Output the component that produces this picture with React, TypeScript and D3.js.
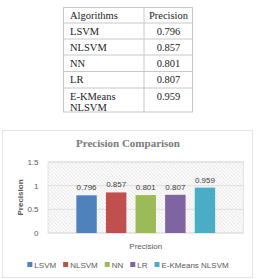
import React, { useEffect, useRef } from "react";
import * as d3 from "d3";

const algorithms = ["LSVM", "NLSVM", "NN", "LR", "E-KMeans NLSVM"];
const tableNames = [["LSVM"], ["NLSVM"], ["NN"], ["LR"], ["E-KMeans", "NLSVM"]];
const precision = [0.796, 0.857, 0.801, 0.807, 0.959];
const yTicks = [0, 0.5, 1, 1.5];
const colors = ["#4F81BD", "#C0504D", "#9BBB59", "#8064A2", "#4BACC6"];
const categoryLabel = "Precision";
const chartTitle = "Precision Comparison";

const W = 256;
const H = 279;

export default function App() {
  const ref = useRef<SVGSVGElement>(null);

  useEffect(() => {
    const svg = d3.select(ref.current);
    svg.selectAll("*").remove();

    // ---------- Table ----------
    const tbl = svg.append("g");
    const tx0 = 63.5, tx1 = 144, tx2 = 192.5;
    const rowH = [15.5, 16, 16, 16.5, 16.5, 24];
    const rowY = [7.5];
    rowH.forEach((h, i) => rowY.push(rowY[i] + h));
    tbl.append("rect")
      .attr("x", tx0).attr("y", rowY[0])
      .attr("width", tx2 - tx0).attr("height", rowY[rowY.length - 1] - rowY[0])
      .attr("fill", "none").attr("stroke", "#c8c8c8").attr("stroke-width", 1);
    tbl.append("line").attr("x1", tx1).attr("x2", tx1)
      .attr("y1", rowY[0]).attr("y2", rowY[rowY.length - 1])
      .attr("stroke", "#c8c8c8");
    rowY.slice(1, -1).forEach((y) => {
      tbl.append("line").attr("x1", tx0).attr("x2", tx2)
        .attr("y1", y).attr("y2", y).attr("stroke", "#c8c8c8");
    });
    const tFont = "'Liberation Serif', 'Times New Roman', serif";
    const cellText = (x: number, y: number, s: string, anchor: string) =>
      tbl.append("text").attr("x", x).attr("y", y).attr("text-anchor", anchor)
        .attr("font-family", tFont).attr("font-size", 10.5).attr("fill", "#222")
        .text(s);
    cellText(70, rowY[0] + 11, "Algorithms", "start");
    cellText(168.5, rowY[0] + 11, "Precision", "middle");
    tableNames.forEach((lines, i) => {
      const y = rowY[i + 1] + 11.5;
      lines.forEach((ln, j) => cellText(70, y + j * 11.5, ln, "start"));
      cellText(168.5, y, precision[i].toFixed(3), "middle");
    });

    // ---------- Chart ----------
    const ch = svg.append("g");
    ch.append("rect").attr("x", 2.5).attr("y", 130.5).attr("width", 250).attr("height", 147)
      .attr("fill", "#fff").attr("stroke", "#e3e3e3");

    ch.append("text").attr("x", 128).attr("y", 147).attr("text-anchor", "middle")
      .attr("font-family", tFont).attr("font-weight", "bold").attr("font-size", 11)
      .attr("fill", "#7a7a7a").text(chartTitle);

    const left = 48, right = 243.5, top = 162, bottom = 233;
    const y = d3.scaleLinear().domain([0, 1.5]).range([bottom, top]);
    const x0 = d3.scaleBand().domain([categoryLabel]).range([left, right]);
    const clusterW = 29.6 * algorithms.length;
    const x1 = d3.scaleBand().domain(algorithms)
      .range([x0(categoryLabel)! + (x0.bandwidth() - clusterW) / 2,
              x0(categoryLabel)! + (x0.bandwidth() + clusterW) / 2])
      .paddingInner(0.31).paddingOuter(0.155);

    const defs = svg.append("defs");
    const pat = defs.append("pattern").attr("id", "hatch")
      .attr("patternUnits", "userSpaceOnUse").attr("width", 3.5).attr("height", 3.5);
    pat.append("rect").attr("width", 3.5).attr("height", 3.5).attr("fill", "#fff");
    pat.append("path").attr("d", "M0,0 L3.5,3.5 M-1,2.5 L1,4.5 M2.5,-1 L4.5,1")
      .attr("stroke", "#e4e4e4").attr("stroke-width", 0.9);

    ch.append("rect").attr("x", left).attr("y", top)
      .attr("width", right - left).attr("height", bottom - top)
      .attr("fill", "url(#hatch)").attr("stroke", "#dcdcdc").attr("stroke-width", 0.8);

    const sFont = "'Liberation Sans', Arial, sans-serif";
    yTicks.forEach((t) => {
      ch.append("line").attr("x1", left).attr("x2", right)
        .attr("y1", y(t)).attr("y2", y(t)).attr("stroke", "#d9d9d9").attr("stroke-width", 0.8);
      ch.append("text").attr("x", 38.5).attr("y", y(t) + 3).attr("text-anchor", "end")
        .attr("font-family", sFont).attr("font-size", 8).attr("fill", "#595959")
        .text(String(t));
    });

    ch.append("text")
      .attr("transform", `translate(23,${(top + bottom) / 2}) rotate(-90)`)
      .attr("text-anchor", "middle").attr("font-family", sFont).attr("font-weight", "bold")
      .attr("font-size", 8).attr("fill", "#595959").text("Precision");

    algorithms.forEach((a, i) => {
      const bx = x1(a)!;
      ch.append("rect").attr("x", bx).attr("y", y(precision[i]))
        .attr("width", x1.bandwidth()).attr("height", y(0) - y(precision[i]))
        .attr("fill", colors[i]);
      ch.append("text").attr("x", bx + x1.bandwidth() / 2).attr("y", y(precision[i]) - 5)
        .attr("text-anchor", "middle").attr("font-family", sFont).attr("font-size", 8)
        .attr("fill", "#404040").text(precision[i].toFixed(3));
    });

    ch.append("text").attr("x", (left + right) / 2).attr("y", 248.5).attr("text-anchor", "middle")
      .attr("font-family", sFont).attr("font-size", 8).attr("fill", "#595959").text(categoryLabel);

    // Legend
    const lg = ch.append("g");
    let cx = 0;
    const items: { x: number; i: number }[] = [];
    algorithms.forEach((a, i) => {
      const t = lg.append("text").attr("y", 267.5).attr("font-family", sFont)
        .attr("font-size", 8).attr("fill", "#595959").text(a);
      const w = (t.node() as SVGTextElement).getComputedTextLength();
      items.push({ x: cx, i });
      t.attr("x", cx + 7);
      lg.append("rect").attr("x", cx).attr("y", 262).attr("width", 5).attr("height", 5)
        .attr("fill", colors[i]);
      cx += 7 + w + 7;
    });
    const total = cx - 7;
    lg.attr("transform", `translate(${128 - total / 2},0)`);
  }, []);

  return (
    <svg
      ref={ref}
      width={W}
      height={H}
      style={{ position: "fixed", left: 0, top: 0, background: "#fff" }}
    />
  );
}
